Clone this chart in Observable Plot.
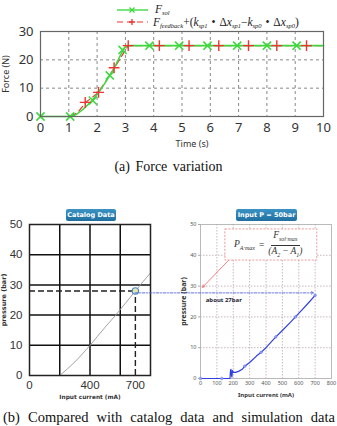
<!DOCTYPE html>
<html><head><meta charset="utf-8">
<script src="https://cdn.jsdelivr.net/npm/d3@7"></script>
<script src="https://cdn.jsdelivr.net/npm/@observablehq/plot@0.6"></script>
<style>
body{margin:0;background:#fff;}
#root{position:relative;width:337px;height:426px;overflow:hidden;font-family:"DejaVu Sans",sans-serif;}
.cap{font-family:"Liberation Serif","Times New Roman",serif;color:#111;white-space:nowrap;}
.badge{background:linear-gradient(#3a93c4,#1f6fa0);color:#fff;font-weight:bold;font-size:6.5px;border-radius:2px;text-align:center;line-height:12px;height:12px;}
.leg{font-family:"Liberation Serif",serif;font-style:italic;font-size:11.5px;line-height:12px;color:#222;white-space:nowrap;}
.leg sub{font-size:6.5px;vertical-align:-1.5px;line-height:0;}
svg{overflow:visible;}
</style></head>
<body><div id="root"></div>
<script>
// ---------- Data: (a) Force variation ----------
const timeTicks = [0,1,2,3,4,5,6,7,8,9,10];
const forceTicks = [0,10,20,30];
const solTime  = [0, 1.0, 1.2, 1.5, 1.85, 2.05, 2.45, 2.6, 2.9, 3.05, 10];
const solForce = [0, 0, 0.4, 2.5, 6, 8.5, 14.5, 17, 23, 25, 25];
const fbTime   = [0, 1.0, 1.3, 1.6, 2.05, 2.6, 3.1, 10];
const fbForce  = [0, 0, 1.2, 5, 8.5, 17, 25, 25];
const solMarkTime  = [0, 1.05, 1.85, 2.45, 2.9, 3.85, 4.9, 5.9, 6.95, 8.0, 9.05];
const solMarkForce = [0, 0, 5.6, 14.5, 23.5, 25, 25, 25, 25, 25, 25];
const fbMarkTime   = [1.58, 2.05, 2.6, 3.1, 4.2, 5.25, 6.3, 7.35, 8.35, 9.4];
const fbMarkForce  = [5, 8.5, 17.2, 25, 25, 25, 25, 25, 25, 25];

// ---------- Data: (b) catalog ----------
const catGrid = [200,400,600];
const catXTicks = [0,400,700];
const pTicks = [0,10,20,30,40,50];
const catCurrent  = [200, 300, 400, 500, 570, 700, 800];
const catPressure = [0, 4.5, 10, 16, 20, 28, 34];
const catPoint = {current: 700, pressure: 28};

// ---------- Data: (b) simulation ----------
const simXTicks = [0,100,200,300,400,500,600,700,800];
const simCurrent  = [0,100,130,180,183,186,189,192,195,200,215,235,255,270,300,340,370,400,460,500,550,580,620,660,700];
const simPressure = [0,0,0,0,2.5,3,1,0.5,2.6,2,2,2.4,3,4,5.2,7.2,8.5,10,13.5,15.6,18.3,20,22.3,24.6,27];
const simMarkCurrent  = [0,130,270,370,460,580,700];
const simMarkPressure = [0,0,4,8.5,13.5,20,27];
// annotations (data units of simulation chart)
const connector = {x1: -400, x2: 690, y: 27.8};
const formulaBox = {x1: 152, x2: 713, y1: 38.3, y2: 48.4};
const formulaArrow = {x1: 170, y1: 38.3, x2: 12, y2: 29.6};
const aboutLabel = {x: 32, y: 25.6, text: "about 27bar"};

const green = "#3fd83f", red = "#ee3333";
const root = document.getElementById("root");
function place(el, left, top){ el.style.position="absolute"; el.style.left=left+"px"; el.style.top=top+"px"; root.appendChild(el); }
const zip = (a,b) => a.map((v,i)=>({x:v,y:b[i]}));

// ---------- Chart (a) ----------
const chartA = Plot.plot({
  width: 337, height: 160,
  marginLeft: 40, marginRight: 14, marginTop: 31, marginBottom: 44,
  style: {background: "transparent", overflow: "visible"},
  x: {domain: [0,10]}, y: {domain: [0,30]},
  marks: [
    Plot.gridX(timeTicks.slice(1,-1), {stroke:"#888", strokeOpacity:1, strokeDasharray:"3,3"}),
    Plot.gridY(forceTicks.slice(1,-1), {stroke:"#888", strokeOpacity:1, strokeDasharray:"3,3"}),
    Plot.line(zip(fbTime, fbForce), {x:"x", y:"y", stroke: red, strokeWidth: 1.2, strokeDasharray:"6,4"}),
    Plot.line(zip(solTime, solForce), {x:"x", y:"y", stroke: green, strokeWidth: 1.6, curve: "monotone-x"}),
    Plot.dot(zip(solMarkTime, solMarkForce), {x:"x", y:"y", symbol:"times", stroke: green, strokeWidth: 1.6, r: 3.8}),
    Plot.dot(zip(fbMarkTime, fbMarkForce), {x:"x", y:"y", symbol:"plus", stroke: red, strokeWidth: 1.4, r: 3.6}),
    Plot.frame({stroke:"#666", strokeWidth: 1.2}),
    Plot.axisX(timeTicks, {tickSize: 0, tickPadding: 6, fontSize: 13, fill:"#333", label: null}),
    Plot.axisY(forceTicks, {tickSize: 0, tickPadding: 7, fontSize: 13, fill:"#333", label: null}),
    Plot.text(["Time (s)"], {frameAnchor:"bottom", dy: 30, dx: 10, fontSize: 9, fill:"#333"}),
    Plot.text(["Force (N)"], {frameAnchor:"left", textAnchor:"middle", dx: -34, rotate: -90, fontSize: 9, fill:"#333"})
  ]
});
place(chartA, 0, 0);

// legend
const leg = document.createElement("div");
leg.innerHTML = `
<svg width="40" height="30" style="position:absolute;left:112px;top:2px">
  <line x1="5" x2="36" y1="8" y2="8" stroke="${green}" stroke-width="1.4"/>
  <path d="M17.5,5.5L22.5,10.5M22.5,5.5L17.5,10.5" stroke="${green}" stroke-width="1.3"/>
  <line x1="5" x2="36" y1="20" y2="20" stroke="${red}" stroke-width="1.2" stroke-dasharray="6,4"/>
  <path d="M20,17L20,23M17,20L23,20" stroke="${red}" stroke-width="1.3"/>
</svg>
<div class="leg" style="position:absolute;left:155px;top:3px">F<sub>sol</sub></div>
<div class="leg" style="position:absolute;left:153px;top:16px;word-spacing:1px">F<sub>feedback</sub><span style="font-style:normal">+(</span>k<sub>sp1</sub> <span style="font-style:normal">&#8226;</span> <span style="font-style:normal">&#916;</span>x<sub>sp1</sub><span style="font-style:normal">&#8722;</span>k<sub>sp0</sub> <span style="font-style:normal">&#8226;</span> <span style="font-style:normal">&#916;</span>x<sub>sp0</sub><span style="font-style:normal">)</span></div>`;
place(leg, 0, 0);

const capA = document.createElement("div");
capA.className = "cap"; capA.textContent = "(a)  Force  variation";
capA.style.fontSize = "14px"; capA.style.wordSpacing = "2px"; capA.style.width = "337px"; capA.style.textAlign = "center";
place(capA, 0, 159);

// ---------- Chart (b) left: catalog ----------
const chartB1 = Plot.plot({
  width: 165, height: 200,
  marginLeft: 29, marginRight: 15, marginTop: 19, marginBottom: 30,
  style: {background: "transparent", overflow: "visible", fontFamily: "'Liberation Sans', Arial, sans-serif"},
  x: {domain: [0,800]}, y: {domain: [0,50]},
  marks: [
    Plot.gridX(catGrid, {stroke:"#111", strokeOpacity:1, strokeWidth: 1.5}),
    Plot.gridY(pTicks.slice(1,-1), {stroke:"#111", strokeOpacity:1, strokeWidth: 1.5}),
    Plot.line(zip(catCurrent, catPressure), {x:"x", y:"y", stroke:"#999", strokeWidth: 0.9, curve:"monotone-x"}),
    Plot.ruleY([catPoint], {y:"pressure", x1: 0, x2:"current", stroke:"#222", strokeWidth: 1.4, strokeDasharray:"6,3"}),
    Plot.ruleX([catPoint], {x:"current", y1: 0, y2:"pressure", stroke:"#222", strokeWidth: 1.4, strokeDasharray:"6,3"}),
    Plot.frame({stroke:"#222", strokeWidth: 1.5}),
    Plot.dot([catPoint], {x:"current", y:"pressure", r: 3.2, stroke:"#4a86c8", strokeWidth: 1.2, fill:"#e4e6b0"}),
    Plot.axisX(catXTicks, {tickSize: 0, tickPadding: 5, fontSize: 11.5, fill:"#333", label: null}),
    Plot.axisY(pTicks, {tickSize: 0, tickPadding: 7, fontSize: 11.5, fill:"#333", label: null}),
    Plot.text(["Input current (mA)"], {frameAnchor:"bottom", dy: 23, fontSize: 5.8, fontWeight:"bold", fill:"#333", fontFamily:"DejaVu Sans"}),
    Plot.text(["pressure (bar)"], {frameAnchor:"left", textAnchor:"middle", dx: -26, rotate: -90, fontSize: 6.5, fontWeight:"bold", fill:"#333", fontFamily:"DejaVu Sans"})
  ]
});
place(chartB1, 0, 205);

// ---------- Chart (b) right: simulation ----------
const chartB2 = Plot.plot({
  width: 167, height: 200,
  marginLeft: 30, marginRight: 6, marginTop: 19, marginBottom: 27,
  style: {background: "transparent", overflow: "visible"},
  x: {domain: [0,800]}, y: {domain: [0,50]},
  marks: [
    Plot.gridX(simXTicks.slice(1,-1), {stroke:"#c8b8c0", strokeOpacity:1, strokeDasharray:"1.5,1.5"}),
    Plot.gridY(pTicks.slice(1,-1), {stroke:"#c8b8c0", strokeOpacity:1, strokeDasharray:"1.5,1.5"}),
    Plot.frame({stroke:"#aaa", strokeWidth: 0.8}),
    Plot.rect([formulaBox], {x1:"x1", x2:"x2", y1:"y1", y2:"y2", fill:"#fff", stroke:"#f08a8a", strokeDasharray:"2,1.5", strokeWidth: 0.9}),
    Plot.arrow([formulaArrow], {x1:"x1", y1:"y1", x2:"x2", y2:"y2", stroke:"#f06060", strokeWidth: 0.8, headLength: 5}),
    Plot.line(zip(simCurrent, simPressure), {x:"x", y:"y", stroke:"#3040e0", strokeWidth: 1.2}),
    Plot.dot(zip(simMarkCurrent, simMarkPressure), {x:"x", y:"y", r: 1.3, fill:"#8fa0ff", stroke:"#6070f0", strokeWidth: 0.5}),
    Plot.arrow([connector], {x1:"x1", x2:"x2", y1:"y", y2:"y", stroke:"#5566dd", strokeWidth: 0.9, strokeDasharray:"3,1.5,1,1.5", headLength: 4, clip: false}),
    Plot.text([aboutLabel], {x:"x", y:"y", text:"text", textAnchor:"start", fontSize: 6, fontWeight:"bold", fill:"#223"}),
    Plot.axisX(simXTicks, {tickSize: 0, tickPadding: 3, fontSize: 5.5, fill:"#555", label: null}),
    Plot.axisY(pTicks, {tickSize: 2, tickPadding: 2, fontSize: 5.5, fill:"#555", stroke:"#aaa", label: null}),
    Plot.text(["Input current (mA)"], {frameAnchor:"bottom", dy: 18, fontSize: 6, fontWeight:"bold", fill:"#333"}),
    Plot.text(["pressure (bar)"], {frameAnchor:"left", textAnchor:"middle", dx: -17, rotate: -90, fontSize: 7, fontWeight:"bold", fill:"#333"})
  ]
});
place(chartB2, 170, 205);

// formula text overlay
const formula = document.createElement("div");
formula.innerHTML = `<div style="display:flex;align-items:center;font-family:'Liberation Serif',serif;font-style:italic;font-size:9.5px;color:#333;white-space:nowrap">
<span>P<sub style="font-size:6px">A&#183;max</sub></span><span style="font-style:normal;margin:0 4px">=</span>
<span style="display:inline-flex;flex-direction:column;align-items:center;line-height:11px">
<span style="border-bottom:0.7px solid #333;padding:0 2px">F<sub style="font-size:6px">sol&#183;max</sub></span>
<span>(A<sub style="font-size:6px">2</sub><span style="font-style:normal"> &#8722; </span>A<sub style="font-size:6px">1</sub>)</span></span></div>`;
place(formula, 234, 230);

const badge1 = document.createElement("div");
badge1.className = "badge"; badge1.textContent = "Catalog Data"; badge1.style.width = "50px";
place(badge1, 66, 209);
const badge2 = document.createElement("div");
badge2.className = "badge"; badge2.textContent = "Input P = 50bar"; badge2.style.width = "61px";
place(badge2, 236, 209);

const capB = document.createElement("div");
capB.className = "cap"; capB.textContent = "(b) Compared with catalog data and simulation data";
capB.style.fontSize = "14.5px"; capB.style.width = "332px"; capB.style.whiteSpace = "normal";
capB.style.textAlign = "justify"; capB.style.textAlignLast = "justify";
place(capB, 3, 409);
</script></body></html>
